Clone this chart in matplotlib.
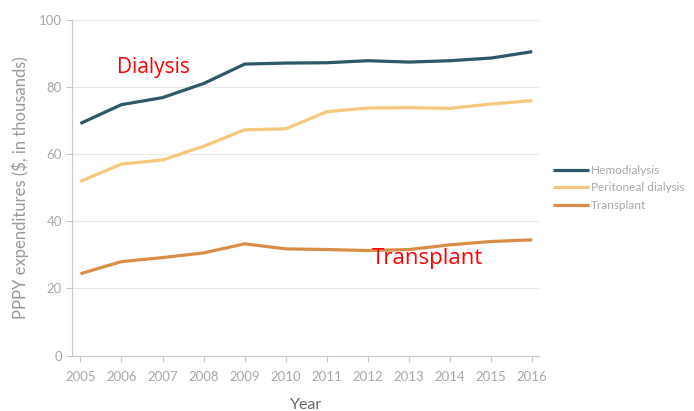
import numpy as np
import matplotlib.pyplot as plt

years = np.arange(2005, 2017)
hemodialysis = [69.2, 74.8, 76.9, 81.1, 86.9, 87.2, 87.3, 87.9, 87.5, 87.9, 88.7, 90.6]
peritoneal = [51.9, 57.1, 58.3, 62.4, 67.3, 67.6, 72.7, 73.8, 73.9, 73.7, 75.0, 76.0]
transplant = [24.4, 28.0, 29.2, 30.6, 33.3, 31.8, 31.6, 31.3, 31.6, 33.0, 34.0, 34.5]

series = [
    ("Hemodialysis", hemodialysis, "#2b5968"),
    ("Peritoneal dialysis", peritoneal, "#f5c97c"),
    ("Transplant", transplant, "#d98e48"),
]

plt.rcParams["font.family"] = ["Lato", "DejaVu Sans"]

fig = plt.figure(figsize=(6.94, 4.11), dpi=100)
ax = fig.add_axes([0.104, 0.135, 0.673, 0.816])

for name, vals, color in series:
    ax.plot(years, vals, color=color, lw=2.3, label=name, solid_capstyle="butt")

ax.set_xlim(2004.8, 2016.17)
ax.set_ylim(0, 100)
ax.set_xticks(years)
ax.set_yticks([0, 20, 40, 60, 80, 100])
ax.grid(axis="y", color="#e8e8e8", lw=0.8)
ax.set_axisbelow(True)
for s in ["top", "right"]:
    ax.spines[s].set_visible(False)
for s in ["left", "bottom"]:
    ax.spines[s].set_color("#c8c8c8")
    ax.spines[s].set_linewidth(0.8)
ax.tick_params(colors="#c8c8c8", labelcolor="#a8a8a8", labelsize=9.5, length=4, width=0.8)
ax.tick_params(axis="x", pad=7)

ax.set_xlabel("Year", color="#666666", fontsize=11.5, labelpad=11)
ax.set_ylabel("PPPY expenditures ($, in thousands)", color="#999999", fontsize=12, labelpad=7)

ax.text(2005.9, 86, "Dialysis", color="red", fontsize=15, family=["Open Sans", "DejaVu Sans"], va="center")
ax.text(2012.1, 28.8, "Transplant", color="red", fontsize=16, family=["Open Sans", "DejaVu Sans"], va="center")

fig.legend(loc="center left", bbox_to_anchor=(0.781, 0.5426), frameon=False,
           prop={"size": 8.5}, labelcolor="#a8a8a8",
           handlelength=3.1, handletextpad=0.15, labelspacing=0.55)

fig.savefig("out.png", dpi=100)
